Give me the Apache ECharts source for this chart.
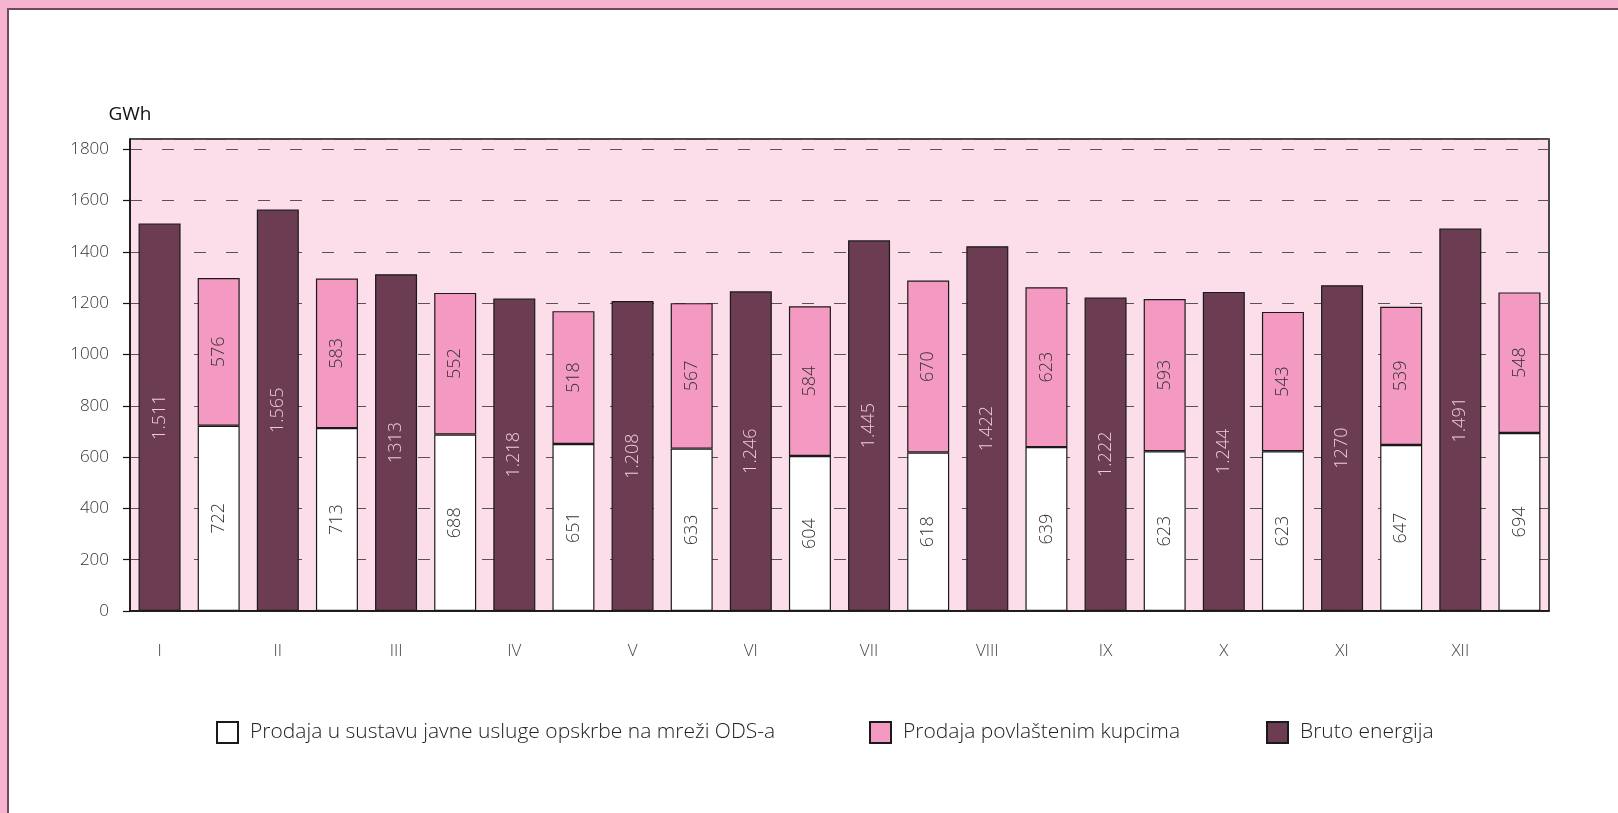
<!DOCTYPE html>
<html>
<head>
<meta charset="utf-8">
<script src="https://cdn.jsdelivr.net/npm/echarts@6/dist/echarts.min.js"></script>
<style>
html, body { margin: 0; padding: 0; background: #fff; }
#myChart { width: 1618px; height: 813px; }
</style>
</head>
<body>
<div id="myChart"></div>
<script>
// mjeseci
var months = ['I', 'II', 'III', 'IV', 'V', 'VI', 'VII', 'VIII', 'IX', 'X', 'XI', 'XII'];
// Bruto energija (GWh)
var bruto = [1511, 1565, 1313, 1218, 1208, 1246, 1445, 1422, 1222, 1244, 1270, 1491];
var brutoLabels = ['1.511', '1.565', '1313', '1.218', '1.208', '1.246', '1.445', '1.422', '1.222', '1.244', '1270', '1.491'];
// Prodaja u sustavu javne usluge
var javna = [722, 713, 688, 651, 633, 604, 618, 639, 623, 623, 647, 694];
// Prodaja povlastenim kupcima
var povlasteni = [576, 583, 552, 518, 567, 584, 670, 623, 593, 543, 539, 548];

var nameJavna = 'Prodaja u sustavu javne usluge opskrbe na mreži ODS-a';
var namePovl = 'Prodaja povlaštenim kupcima';
var nameBruto = 'Bruto energija';

var font = "'Open Sans', sans-serif";

// svaki mjesec ima dva stupca: bruto lijevo, prodaja desno
var xData = [], brutoData = [], javnaData = [], povlData = [];
months.forEach(function (m, i) {
    xData.push(m, '');
    brutoData.push(bruto[i], '-');
    javnaData.push('-', javna[i]);
    povlData.push('-', povlasteni[i]);
});

var legendCommon = {
    padding: 0,
    icon: 'rect',
    itemWidth: 21,
    itemHeight: 21,
    selectedMode: false,
    textStyle: { fontFamily: font, fontWeight: 300, fontSize: 21, color: '#222', padding: [0, 0, 0, 7] }
};

var myChart = echarts.init(document.getElementById('myChart'));
myChart.setOption({
    animation: false,
    textStyle: { fontFamily: font },
    graphic: [
        { type: 'rect', shape: { x: 0, y: 0, width: 1618, height: 8 }, style: { fill: '#f7b4d0' } },
        { type: 'rect', shape: { x: 0, y: 0, width: 7, height: 813 }, style: { fill: '#f7b4d0' } },
        { type: 'rect', shape: { x: 7, y: 8, width: 1611, height: 2 }, style: { fill: '#6e4a5b' } },
        { type: 'rect', shape: { x: 7, y: 8, width: 2, height: 805 }, style: { fill: '#6e4a5b' } }
    ],
    legend: [
        Object.assign({ data: [nameJavna], left: 216, top: 721 }, legendCommon),
        Object.assign({ data: [namePovl], left: 869, top: 721 }, legendCommon),
        Object.assign({ data: [nameBruto], left: 1266, top: 721 }, legendCommon)
    ],
    grid: {
        left: 130, right: 69, top: 139, bottom: 202,
        show: true,
        backgroundColor: '#fcdeea',
        borderColor: '#111',
        borderWidth: 1.5
    },
    xAxis: {
        type: 'category',
        data: xData,
        axisLine: { lineStyle: { color: '#111', width: 1.5 } },
        axisTick: { length: 8, lineStyle: { color: '#111', width: 1.2 } },
        axisLabel: { interval: 0, margin: 32, fontSize: 17, fontWeight: 300, color: '#444' }
    },
    yAxis: {
        type: 'value',
        min: 0,
        max: 1840,
        interval: 200,
        name: 'GWh',
        nameLocation: 'end',
        nameGap: 15,
        nameTextStyle: { fontSize: 19, color: '#111' },
        axisLine: { show: true, lineStyle: { color: '#111', width: 1.5 } },
        axisTick: { show: true, length: 7, lineStyle: { color: '#111', width: 1.2 } },
        axisLabel: {
            margin: 21, fontSize: 17, fontWeight: 300, color: '#333', showMaxLabel: false,
            formatter: function (v) { return String(v); }
        },
        splitLine: { lineStyle: { color: '#555', width: 1.2, type: [12, 20] } }
    },
    series: [
        {
            name: nameJavna,
            type: 'bar',
            stack: 'prodaja',
            data: javnaData,
            barWidth: 42,
            barGap: '-100%',
            itemStyle: { color: '#ffffff', borderColor: '#1a1a1a', borderWidth: 1.2 },
            label: { show: true, position: 'inside', rotate: 90, fontSize: 18, fontWeight: 300, color: '#333' }
        },
        {
            name: namePovl,
            type: 'bar',
            stack: 'prodaja',
            data: povlData,
            barWidth: 42,
            barGap: '-100%',
            itemStyle: { color: '#f49ac2', borderColor: '#1a1a1a', borderWidth: 1.2 },
            label: { show: true, position: 'inside', rotate: 90, fontSize: 18, fontWeight: 300, color: '#333' }
        },
        {
            name: nameBruto,
            type: 'bar',
            data: brutoData,
            barWidth: 42,
            barGap: '-100%',
            itemStyle: { color: '#6b3c52', borderColor: '#1a1a1a', borderWidth: 1.2 },
            label: {
                show: true, position: 'inside', rotate: 90, fontSize: 18, fontWeight: 300, color: '#efcadb',
                formatter: function (p) { return brutoLabels[p.dataIndex / 2]; }
            }
        }
    ]
});
</script>
</body>
</html>
